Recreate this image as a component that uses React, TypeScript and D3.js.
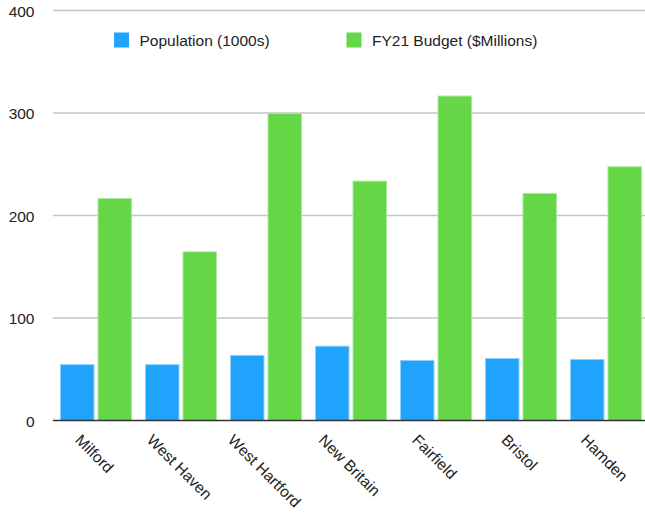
import React from "react";
import * as d3 from "d3";

const towns = ["Milford", "West Haven", "West Hartford", "New Britain", "Fairfield", "Bristol", "Hamden"];
const population = [55, 55, 64, 73, 59, 61, 60];
const budget = [217, 165, 300, 234, 317, 222, 248];
const seriesNames = ["Population (1000s)", "FY21 Budget ($Millions)"];
const yTicks = [0, 100, 200, 300, 400];

const W = 645;
const H = 514;
const FONT = "'Liberation Sans', Arial, Helvetica, sans-serif";
const FS = 15.5;

const colors = ["#1fa3fc", "#65d645"];
const edges = ["#8fd0fd", "#aae99a"];

function measure(text: string): number {
  const c = document.createElement("canvas").getContext("2d");
  if (!c) return text.length * FS * 0.5;
  c.font = `${FS}px ${FONT}`;
  return c.measureText(text).width;
}

export default function App() {
  const x0 = d3.scaleBand<string>().domain(towns).range([53, 648]).padding(0);
  const x1 = d3.scaleBand<number>().domain([0, 1]).range([7, 79]).paddingInner(0.08);
  const y = d3.scaleLinear().domain([0, 400]).range([420.5, 10.5]);
  const series = [population, budget];
  const c45 = Math.SQRT1_2;

  return (
    <svg
      width={W}
      height={H}
      style={{ position: "absolute", left: 0, top: 0, background: "#fff" }}
      fontFamily={FONT}
      fontSize={FS}
    >
      {yTicks.map((t) => (
        <g key={t}>
          {t > 0 && (
            <line x1={53} x2={W} y1={y(t)} y2={y(t)} stroke="#c4c4c4" strokeWidth={1.3} />
          )}
          <text x={34.5} y={y(t) + 6.2} textAnchor="end" fill="#222">
            {t}
          </text>
        </g>
      ))}

      {towns.map((town, i) => (
        <g key={town} transform={`translate(${x0(town)},0)`}>
          {series.map((vals, s) => (
            <rect
              key={s}
              x={x1(s)! + 0.5}
              y={y(vals[i]) + 0.5}
              width={x1.bandwidth() - 1}
              height={y(0) - y(vals[i]) - 0.5}
              fill={colors[s]}
              stroke={edges[s]}
              strokeWidth={1}
            />
          ))}
        </g>
      ))}

      <line x1={53} x2={W} y1={y(0)} y2={y(0)} stroke="#333" strokeWidth={1.6} />

      {towns.map((town) => {
        const cx = x0(town)! + x0.bandwidth() / 2;
        const L = measure(town);
        const ax = cx - (L * c45 + 7.5) / 2 - 1;
        const ay = 441;
        return (
          <text
            key={town}
            x={ax}
            y={ay}
            transform={`rotate(45, ${ax}, ${ay})`}
            fill="#222"
          >
            {town}
          </text>
        );
      })}

      {seriesNames.map((name, s) => {
        const lx = s === 0 ? 114 : 346.5;
        return (
          <g key={name}>
            <rect x={lx} y={32.5} width={15} height={15} fill={colors[s]} />
            <text x={lx + 25.5} y={45.5} fill="#222">
              {name}
            </text>
          </g>
        );
      })}
    </svg>
  );
}
